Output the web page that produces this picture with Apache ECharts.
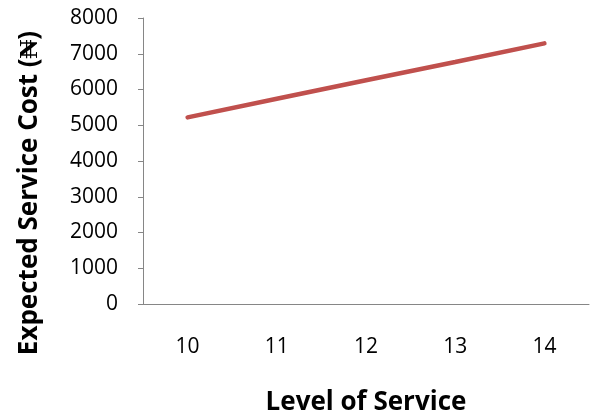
<!DOCTYPE html>
<html>
<head>
<meta charset="utf-8">
<script src="https://cdn.jsdelivr.net/npm/echarts@6/dist/echarts.min.js"></script>
<style>html,body{margin:0;padding:0;background:#fff}#c{width:594px;height:420px}</style>
</head>
<body>
<div id="c"></div>
<script>
var categories = ['10', '11', '12', '13', '14'];
var costValues = [5220, 5740, 6260, 6770, 7290];
var yTicks = [0, 1000, 2000, 3000, 4000, 5000, 6000, 7000, 8000];
var xTitle = 'Level of Service';
var yTitle = 'Expected Service Cost (\u20A6)';

var chart = echarts.init(document.getElementById('c'));
chart.setOption({
  animation: false,
  backgroundColor: '#fff',
  grid: {left: 143, right: 5, top: 18, bottom: 116, containLabel: false, outerBoundsMode: 'none'},
  xAxis: {
    type: 'category',
    data: categories,
    boundaryGap: true,
    name: xTitle,
    nameLocation: 'middle',
    nameGap: 86,
    nameTextStyle: {fontFamily: 'Open Sans', fontWeight: 'bold', fontSize: 26, color: '#000'},
    axisLine: {show: true, lineStyle: {color: '#868686', width: 1}},
    axisTick: {show: false},
    axisLabel: {margin: 33, fontFamily: 'Open Sans', fontSize: 21, color: '#000'},
    splitLine: {show: false}
  },
  yAxis: {
    type: 'value',
    min: yTicks[0],
    max: yTicks[yTicks.length - 1],
    interval: 1000,
    name: yTitle,
    nameLocation: 'middle',
    nameGap: 100,
    nameTextStyle: {fontFamily: 'Open Sans', fontWeight: 'bold', fontSize: 26, color: '#000', padding: [0, 64, 0, 0]},
    axisLine: {show: true, lineStyle: {color: '#868686', width: 1}},
    axisTick: {show: true, inside: false, length: 5, lineStyle: {color: '#868686'}},
    axisLabel: {margin: 25, fontFamily: 'Open Sans', fontSize: 21, color: '#000', formatter: function (v) { return String(v); }},
    splitLine: {show: false}
  },
  series: [{
    type: 'line',
    data: costValues,
    showSymbol: false,
    symbol: 'none',
    lineStyle: {color: '#C0504D', width: 4.5, cap: 'round'},
    itemStyle: {color: '#C0504D'}
  }]
});
</script>
</body>
</html>
